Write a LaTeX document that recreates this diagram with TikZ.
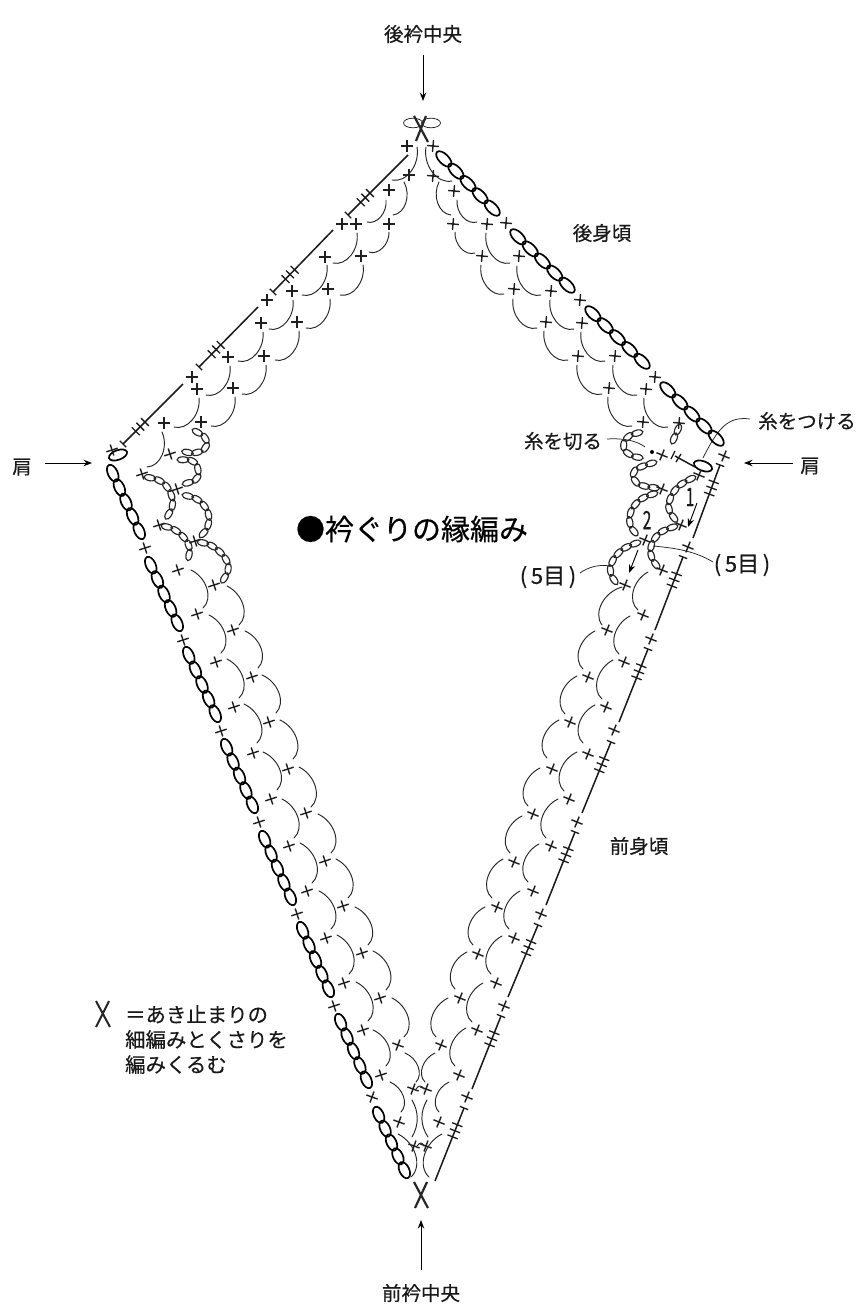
\documentclass[tikz,border=0pt]{standalone}
\usepackage{fontspec}
\setmainfont[FakeBold=0.35]{Noto Sans CJK JP}
\usetikzlibrary{arrows.meta,decorations.markings}
\tikzset{
  lbl/.style={inner sep=0pt,font=\fontsize{19.5}{21}\selectfont,text=black!90},
  arcline/.style={line width=0.95pt,black!85,line cap=round},
  xline/.style={line width=1.4pt,black!88},
  edgeline/.style={line width=1.5pt,black!90},
  tickline/.style={line width=1.3pt,black!90},
  pointer/.style={line width=0.95pt,black,-{Stealth[length=8.5pt,width=6.5pt]}},
  leader/.style={line width=0.75pt,black!85},
  ovalT/.style={line width=1.7pt,black},
  oval/.style={line width=1.15pt,black!85},
  bigx/.style={line width=2.2pt,black!85},
}
% crosses: rotation, then list of centres
\newcommand\crosses[2]{\foreach \px/\py in {#2}{%
  \draw[xline,shift={(\px,\py)},rotate=#1] (-6,0)--(6,0) (0,-5.8)--(0,5.8);}}
% arcs: side of bulge, then list of start/end
\newcommand\arcset[2]{\foreach \sx/\sy/\ex/\ey in {#2}{%
  \pgfmathsetmacro\dxx{\ex-\sx}\pgfmathsetmacro\dyy{\ey-\sy}%
  \pgfmathsetmacro\cax{\sx+0.3*\dxx-(#1)*0.32*\dyy}\pgfmathsetmacro\cay{\sy+0.3*\dyy+(#1)*0.32*\dxx}%
  \pgfmathsetmacro\cbx{\sx+0.85*\dxx-(#1)*0.32*\dyy}\pgfmathsetmacro\cby{\sy+0.85*\dyy+(#1)*0.32*\dxx}%
  \draw[arcline] (\sx,\sy) .. controls (\cax,\cay) and (\cbx,\cby) .. (\ex,\ey);}}
% straight chains of five ovals
\newcommand\straightchains[1]{\foreach \ax/\ay/\bx/\by in {#1}{%
  \pgfmathsetmacro\dxx{\bx-\ax}\pgfmathsetmacro\dyy{\by-\ay}%
  \pgfmathsetmacro\len{sqrt(\dxx*\dxx+\dyy*\dyy)}%
  \pgfmathsetmacro\rad{\len/(2*(5-4*0.12))}%
  \pgfmathsetmacro\ang{atan2(-\dyy,\dxx)}%
  \foreach \i in {0,...,4}{%
    \pgfmathsetmacro\dist{(\rad+\i*2*\rad*0.88)/\len}%
    \pgfmathsetmacro\cx{\ax+\dist*\dxx}\pgfmathsetmacro\cy{\ay+\dist*\dyy}%
    \draw[ovalT,shift={(\cx,\cy)},rotate=\ang] (0,0) ellipse ({\rad pt} and 4.9pt);}}}
% curved chains of small ovals
\newcommand\curvechain[1]{\path[postaction={decorate,decoration={markings,
   mark=between positions 5pt and -3pt step 9.8pt with {\draw[oval] (0,0) ellipse (5.9pt and 3pt);}}}]
   plot[smooth,tension=0.7] coordinates {#1};}
% edge lines with a bar at the end and three ticks
\newcommand\hooked[1]{\foreach \ax/\ay/\bx/\by in {#1}{%
  \pgfmathsetmacro\dxx{\ax-\bx}\pgfmathsetmacro\dyy{\ay-\by}%
  \pgfmathsetmacro\len{sqrt(\dxx*\dxx+\dyy*\dyy)}%
  \pgfmathsetmacro\ux{\dxx/\len}\pgfmathsetmacro\uy{\dyy/\len}%
  \draw[edgeline] (\ax,\ay)--(\bx,\by);
  \draw[tickline] (\bx-4.5*\uy,\by+4.5*\ux)--(\bx+4.5*\uy,\by-4.5*\ux);
  \foreach \d in {18,24.5,31}{%
    \draw[tickline] (\bx+\d*\ux-5.5*\uy,\by+\d*\uy+5.5*\ux)--(\bx+\d*\ux+5.5*\uy,\by+\d*\uy-5.5*\ux);}}}
\begin{document}
\begin{tikzpicture}[x=1pt,y=-1pt]
\useasboundingbox (0,0) rectangle (857,1306);
% ---- texts
\node[lbl] (backcentre) at (423,34) {後衿中央};
\node[lbl] (backbody) at (602,233) {後身頃};
\node[lbl] (frontbody) at (639,846) {前身頃};
\node[lbl] (frontcentre) at (421,1293) {前衿中央};
\node[lbl] (shoulderL) at (22,467) {肩};
\node[lbl] (shoulderR) at (810,466) {肩};
\node[lbl] (attach) at (807,421) {糸をつける};
\node[lbl] (cut) at (563,441) {糸を切る};
\node[inner sep=0pt,font=\fontsize{29}{31}\selectfont,text=black] (title) at (412,529) {●衿ぐりの縁編み};
\node[lbl,font=\fontsize{22}{24}\selectfont] (fiveR) at (742,565) {(\,5目\,)};
\node[lbl,font=\fontsize{22}{24}\selectfont] (fiveL) at (548,577) {(\,5目\,)};
\node[lbl] (one) at (690,497) {\scalebox{.8}[1.3]{1}};
\node[lbl] (two) at (647,520) {\scalebox{.8}[1.3]{2}};
\node[lbl,align=left,anchor=north west,font=\fontsize{20.4}{25}\selectfont] (legend) at (125,1005) {＝あき止まりの\\細編みとくさりを\\編みくるむ};
% ---- pointers
\coordinate (a1) at (423,55); \coordinate (a2) at (423,101);
\draw[pointer] (a1)--(a2);
\coordinate (b1) at (421,1270); \coordinate (b2) at (421,1220);
\draw[pointer] (b1)--(b2);
\coordinate (c1) at (45,463); \coordinate (c2) at (92,463);
\draw[pointer] (c1)--(c2);
\coordinate (d1) at (793,463); \coordinate (d2) at (744,463);
\draw[pointer] (d1)--(d2);
\coordinate (e1) at (697,503); \coordinate (e2) at (688,527);
\draw[pointer] (e1)--(e2);
\coordinate (f1) at (638,550); \coordinate (f2) at (629,573);
\draw[pointer] (f1)--(f2);
% ---- leaders
\draw[leader] (607,439) .. controls (625,438) and (637,441) .. (645,447);
\draw[leader] (750,419) .. controls (728,416) and (718,428) .. (703,458);
\draw[leader] (713,562) .. controls (695,551) and (675,548) .. (653,546);
\draw[leader] (580,573) .. controls (588,567) and (600,564) .. (610,566);
% ---- apex crossings
\draw[bigx] (414,116)--(428,142) (426,116)--(416,141);
\draw[leader] (413,123) ellipse (9.5pt and 4.8pt) (431,123) ellipse (9.5pt and 4.8pt);
\draw[bigx] (414,1182)--(428,1208) (427,1182)--(415,1208);
% legend mark
\draw[line width=2pt,black!85] (96,1001)--(110,1027) (109,1001)--(96,1027);
% ---- edges
\hooked{408/155/348/215,333/230/273/292,258/307/199/367,183/384/123/444}
\hooked{693/538/720/465,655/630/683/557,619/722/648/649,582/813/611/742,546/905/575/832,508/997/538/925,472/1089/501/1016,435/1181/464/1108}
\straightchains{437/152/499/215,511/230/574/292,586/307/649/368,661/383/723/445}
\straightchains{109/465/143/539,147/557/181/631,185/647/219/722,223/739/256/813,261/831/294/905,299/922/332/997,337/1014/370/1088,375/1107/408/1178}
\draw[ovalT,shift={(118,455)},rotate=20] (0,0) ellipse (9.5pt and 4.8pt);
\draw[ovalT,shift={(703,466)},rotate=-20] (0,0) ellipse (9.5pt and 4.8pt);
% ---- crosses
\crosses{0}{407/146,409/175,389/190,342/224,356/224,389/224,325/257,361/256,292/291,328/289,267/300,261/323,297/322,228/357,264/356,192/377,197/389,233/388,164/423,201/422}
\crosses{-5}{433/146,433/176,454/191,453/224,487/224,506/223,482/256,519/256,514/289,551/291,580/300,546/322,582/323,578/356,615/356,655/377,609/388,646/389,643/422,679/423}
\crosses{18}{112/450,170/454,142/474,177/489,159/525,195/541,178/570,214/585,145/548,197/614,233/630,183/640,216/662,252/677,234/707,269/722,221/731,253/753,288/769,271/799,306/813,259/822,289/846,325/861,307/891,343/906,297/914,326/938,362/953,344/983,380/998,334/1006,363/1030,381/1075}
\crosses{-22}{724/456,662/455,699/475,662/489,645/540,681/525,662/570,625/585,643/615,607/630,688/547,651/639,624/662,588/677,606/707,614/730,570/722,588/754,552/769,569/799,577/822,533/814,551/846,514/862,533/891,497/907,541/914,514/938,478/954,496/983,460/998,504/1006,477/1030,441/1045,459/1075,467/1097,439/1122}
\crosses{-20}{398/1045,372/1097,413/1089,426/1089,399/1122,414/1146,426/1146}
% ---- arcs
\arcset{-1}{417/147/392/180,404/182/393/215,386/200/367/222,389/232/369/252,357/233/333/263,363/265/340/295,327/265/302/295,330/299/306/328,293/300/269/329,299/331/275/360,263/332/238/361,266/365/242/394,230/366/206/395,235/397/211/426,199/398/174/427}
\arcset{1}{426/147/452/181,439/182/451/215,457/200/477/222,455/232/475/253,486/233/510/263,481/265/504/294,517/266/541/295,513/299/537/328,550/300/574/329,544/331/568/360,581/332/605/361,577/365/602/394,613/365/637/395,608/397/632/426,644/398/668/427}
\arcset{-1}{162/432/147/467}
\arcset{-1}{191/570/203/608,227/586/239/625,209/615/221/653,245/631/258/668,227/659/239/698,262/675/276/713,244/704/257/743,280/720/293/759,263/752/277/790,299/767/311/807,282/799/294/838,318/814/331/853,300/843/312/883,336/859/348/898,319/891/331/929,355/907/368/945,337/935/349/974,373/951/386/990,356/982/368/1021,392/998/404/1037,373/1030/386/1066,405/1053/416/1082,390/1082/401/1112,398/1134/411/1177}
\arcset{1}{648/572/638/610,622/587/602/625,630/616/619/654,595/631/583/669,613/660/602/699,577/676/565/714,595/705/583/743,559/720/547/758,577/752/564/791,540/768/528/806,558/799/546/838,522/816/510/853,539/844/528/882,503/859/492/898,520/891/509/929,485/907/473/945,502/936/491/974,467/952/455/989,483/983/472/1022,448/998/436/1037,466/1028/455/1066,435/1053/425/1082,449/1082/439/1112,442/1134/429/1177}
\draw[arcline] (412,1100) .. controls (419,1112) and (419,1125) .. (412,1137);
\draw[arcline] (427,1100) .. controls (420,1112) and (420,1125) .. (428,1137);
\draw[arcline] (416,1089) .. controls (419,1085) and (421,1085) .. (424,1089);
\draw[arcline] (417,1146) .. controls (420,1142) and (422,1142) .. (424,1146);
% ---- right shoulder
\draw[edgeline] (675,456)--(695,467);
\draw[tickline] (671,459)--(675,451) (676,462)--(681,454);
\fill[black] (652,452) circle (2pt);
\curvechain{(642,432)(628,437)(624,448)(633,456)(647,458)}
\curvechain{(656,462)(637,469)(634,478)(641,485)(657,488)}
\curvechain{(657,493)(640,500)(630,515)(633,530)(644,538)}
\curvechain{(695,477)(678,487)(669,503)(672,515)(680,524)}
\curvechain{(677,526)(660,533)(651,547)(653,560)(661,570)}
\curvechain{(640,542)(622,550)(611,565)(613,578)(619,584)}
\curvechain{(680,425)(675,436)(670,448)}
% ---- left shoulder
\curvechain{(193,430)(205,438)(205,448)(193,453)(180,450)}
\curvechain{(178,460)(192,461)(198,470)(195,480)(178,485)}
\curvechain{(145,477)(160,481)(170,492)(172,507)(163,522)}
\curvechain{(183,495)(198,500)(208,513)(207,528)(198,538)}
\curvechain{(162,526)(175,530)(187,542)(189,555)(182,565)}
\curvechain{(198,542)(212,546)(225,558)(228,570)(221,583)}
\end{tikzpicture}
\end{document}
